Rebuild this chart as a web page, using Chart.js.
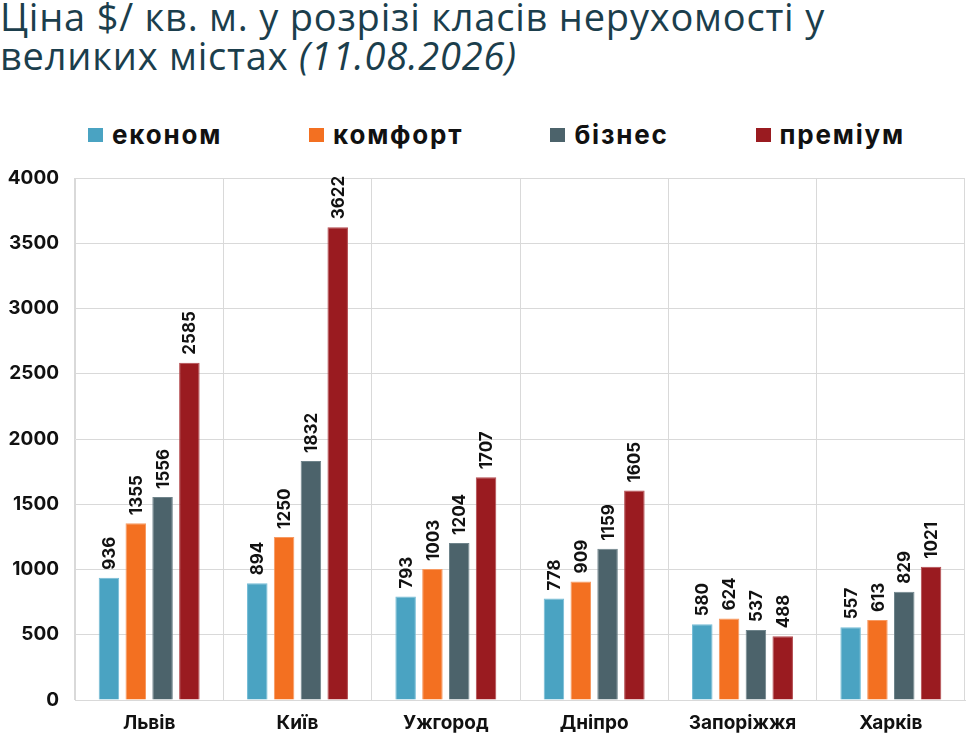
<!DOCTYPE html>
<html lang="uk">
<head>
<meta charset="utf-8">
<title>Ціна $/ кв. м. у розрізі класів нерухомості</title>
<script src="https://cdn.jsdelivr.net/npm/chart.js@4.4.1/dist/chart.umd.min.js"></script>
<style>
  html, body { margin: 0; padding: 0; background: #fff; }
  #wrap { position: relative; width: 980px; height: 737px; overflow: hidden; }
  #title {
    position: absolute; left: 0; top: -3px; margin: 0;
    font-family: "Open Sans", sans-serif; font-weight: 500; font-size: 38px;
    line-height: 39px; color: #1b3e4c; letter-spacing: 0.8px;
  }
  #title i { font-style: italic; }
  #legend {
    position: absolute; left: 88px; top: 119px; display: flex; gap: 87px;
    font-family: Inter, sans-serif; font-weight: 700; font-size: 26px; color: #111;
  }
  #legend span.item { display: flex; align-items: center; letter-spacing: 1.8px; }
  #legend span.box { width: 15px; height: 14px; margin-right: 9px; display: inline-block; }
  canvas { position: absolute; left: 0; top: 0; }
</style>
</head>
<body>
<div id="wrap">
  <h1 id="title">Ціна $/ кв. м. у розрізі класів нерухомості у<br>великих містах <i>(11.08.2026)</i></h1>
  <div id="legend"></div>
  <canvas id="graphique"></canvas>
</div>
<script>
// Données
const villes = ["Львів", "Київ", "Ужгород", "Дніпро", "Запоріжжя", "Харків"];
const classes = ["економ", "комфорт", "бізнес", "преміум"];
const econom = [936, 894, 793, 778, 580, 557];
const komfort = [1355, 1250, 1003, 909, 624, 613];
const biznes = [1556, 1832, 1204, 1159, 537, 829];
const premium = [2585, 3622, 1707, 1605, 488, 1021];
const yTicks = [0, 500, 1000, 1500, 2000, 2500, 3000, 3500, 4000];

const couleurs = ["#4aa3c2", "#f37021", "#4c636b", "#9a1b20"];
const bordures = ["#74bcd6", "#f79a62", "#6f848b", "#b34a4e"];

const series = [econom, komfort, biznes, premium];

// Légende en HTML
const legende = document.querySelector("#legend");
for (let i = 0; i < classes.length; i++) {
	legende.innerHTML += '<span class="item"><span class="box" style="background:' + couleurs[i] + '"></span>' + classes[i] + '</span>';
}

// Étiquettes verticales au-dessus des barres
const etiquettes = {
	id: "etiquettes",
	afterDatasetsDraw(chart) {
		const ctx = chart.ctx;
		ctx.save();
		ctx.font = "700 17px Inter, sans-serif";
		ctx.fillStyle = "#111";
		ctx.textAlign = "left";
		ctx.textBaseline = "middle";
		chart.data.datasets.forEach(function (ds, i) {
			const meta = chart.getDatasetMeta(i);
			meta.data.forEach(function (bar, j) {
				ctx.save();
				ctx.translate(bar.x + 1, bar.y - 8);
				ctx.rotate(-Math.PI / 2);
				ctx.fillText(String(ds.data[j]), 0, 0);
				ctx.restore();
			});
		});
		ctx.restore();
	}
};

const data = {
	labels: villes,
	datasets: series.map(function (valeurs, i) {
		return {
			label: classes[i],
			data: valeurs,
			backgroundColor: couleurs[i],
			borderColor: bordures[i],
			borderWidth: 1,
			categoryPercentage: 0.723,
			barPercentage: 0.765,
		};
	}),
};

const config = {
	type: "bar",
	data: data,
	options: {
		responsive: false,
		animation: false,
		devicePixelRatio: 1,
		layout: { padding: { top: 178, left: 6, right: 15, bottom: 0 } },
		plugins: {
			legend: { display: false },
			tooltip: { enabled: false },
		},
		scales: {
			x: {
				grid: { color: "#d9d9d9", drawTicks: false, offset: true },
				border: { color: "#d9d9d9" },
				ticks: { color: "#111", font: { family: "Inter", weight: "700", size: 19 }, padding: 12 },
				afterFit(scale) { scale.height = 37; },
			},
			y: {
				min: 0,
				max: 4000,
				afterBuildTicks(scale) { scale.ticks = yTicks.map(v => ({ value: v })); },
				grid: { color: "#d9d9d9", drawTicks: false },
				border: { color: "#d9d9d9" },
				ticks: {
					color: "#111",
					font: { family: "Inter", weight: "700", size: 19 },
					padding: 16,
					callback: function (v) { return String(v); },
				},
				afterFit(scale) { scale.width = 69; },
			},
		},
	},
	plugins: [etiquettes],
};

const canvas = document.querySelector("#graphique");
canvas.width = 980;
canvas.height = 737;

// Chargement des polices avant le rendu
Promise.all([
	document.fonts.load("700 17px Inter"),
	document.fonts.load("700 19px Inter"),
]).catch(function () {}).then(function () {
	new Chart(canvas, config);
});
</script>
</body>
</html>
